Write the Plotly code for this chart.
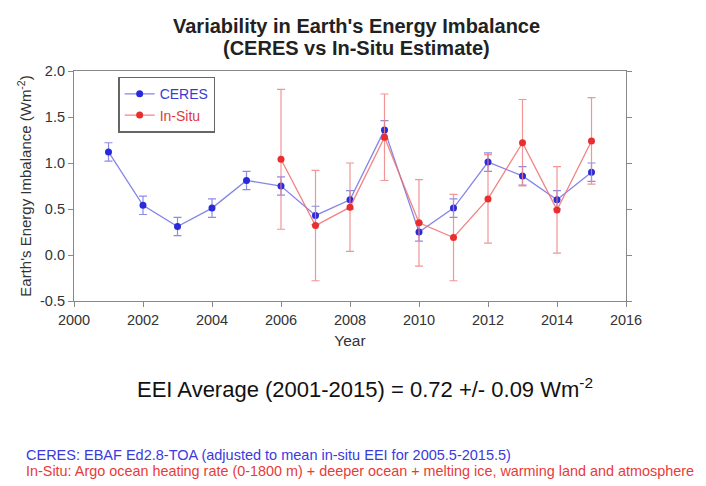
import plotly.graph_objects as go

years_ceres = [2001, 2002, 2003, 2004, 2005, 2006, 2007, 2008, 2009, 2010, 2011, 2012, 2013, 2014, 2015]
ceres = [1.12, 0.54, 0.31, 0.51, 0.81, 0.75, 0.43, 0.60, 1.36, 0.25, 0.51, 1.01, 0.86, 0.60, 0.90]
ceres_err = [0.10, 0.10, 0.10, 0.10, 0.10, 0.10, 0.10, 0.10, 0.10, 0.10, 0.10, 0.10, 0.10, 0.10, 0.10]

years_insitu = [2006, 2007, 2008, 2009, 2010, 2011, 2012, 2013, 2014, 2015]
insitu = [1.04, 0.32, 0.52, 1.28, 0.35, 0.19, 0.61, 1.22, 0.49, 1.24]
insitu_err = [0.76, 0.60, 0.48, 0.47, 0.47, 0.47, 0.48, 0.47, 0.47, 0.47]

x_ticks = [2000, 2002, 2004, 2006, 2008, 2010, 2012, 2014, 2016]
y_ticks = [-0.5, 0.0, 0.5, 1.0, 1.5, 2.0]

FONT = "Liberation Sans, Arial, sans-serif"

fig = go.Figure()
fig.add_trace(go.Scatter(
    x=years_ceres, y=ceres, mode="lines+markers",
    name="<span style='color:#3a3ad0'>CERES</span>",
    line=dict(color="rgba(110,110,230,0.85)", width=1.3),
    marker=dict(color="#2a2ad8", size=7),
    error_y=dict(type="data", array=ceres_err, color="rgba(120,120,225,0.85)", thickness=1.2, width=4),
))
fig.add_trace(go.Scatter(
    x=years_insitu, y=insitu, mode="lines+markers",
    name="<span style='color:#e03a3a'>In-Situ</span>",
    line=dict(color="rgba(238,110,110,0.85)", width=1.3),
    marker=dict(color="#ea2e2e", size=7),
    error_y=dict(type="data", array=insitu_err, color="rgba(240,130,130,0.85)", thickness=1.2, width=4),
))

fig.update_layout(
    width=706, height=486,
    margin=dict(l=66, r=88, t=63, b=193),
    paper_bgcolor="white", plot_bgcolor="white",
    font=dict(family=FONT, color="#333333", size=14),
    showlegend=True,
    legend=dict(
        x=0.08, y=0.975, xanchor="left", yanchor="top",
        bordercolor="#666666", borderwidth=1.5, bgcolor="white",
        font=dict(size=14, family=FONT),
        tracegroupgap=0, itemwidth=30,
    ),
    xaxis=dict(
        range=[2000, 2016], tickvals=x_ticks, ticktext=[str(v) for v in x_ticks],
        showgrid=False, zeroline=False, showline=True, linecolor="#888888", linewidth=1.2,
        mirror=True, ticks="outside", ticklen=5, tickcolor="#888888",
        tickfont=dict(size=14.5, color="#333333"),
        title=dict(text="Year", font=dict(size=15.5, color="#333333"), standoff=8),
    ),
    yaxis=dict(
        range=[-0.5, 2.0], tickvals=y_ticks, ticktext=[f"{v:.1f}" for v in y_ticks],
        showgrid=False, zeroline=False, showline=True, linecolor="#888888", linewidth=1.2,
        mirror="ticks", ticks="outside", ticklen=5, tickcolor="#888888",
        tickfont=dict(size=14.5, color="#333333"),
        title=dict(text="Earth's Energy Imbalance (Wm<sup>-2</sup>)", font=dict(size=15, color="#333333"), standoff=4),
    ),
)

fig.add_annotation(
    xref="paper", yref="paper", x=0.511, y=1.196, xanchor="center", yanchor="middle",
    text="<b>Variability in Earth's Energy Imbalance</b>",
    showarrow=False, font=dict(size=20, color="#222222", family=FONT),
)
fig.add_annotation(
    xref="paper", yref="paper", x=0.511, y=1.100, xanchor="center", yanchor="middle",
    text="<b>(CERES vs In-Situ Estimate)</b>",
    showarrow=False, font=dict(size=20, color="#222222", family=FONT),
)
fig.add_annotation(
    xref="paper", yref="paper", x=0.528, y=-0.378, xanchor="center", yanchor="middle",
    text="EEI Average (2001-2015) = 0.72 +/- 0.09 Wm<sup>-2</sup>",
    showarrow=False, font=dict(size=22, color="#111111", family=FONT),
)
fig.add_annotation(
    xref="paper", yref="paper", x=-0.091, y=-0.67, xanchor="left", yanchor="middle",
    text="CERES: EBAF Ed2.8-TOA (adjusted to mean in-situ EEI for 2005.5-2015.5)",
    showarrow=False, font=dict(size=14.5, color="#3a3ae0", family=FONT),
)
fig.add_annotation(
    xref="paper", yref="paper", x=-0.091, y=-0.74, xanchor="left", yanchor="middle",
    text="In-Situ: Argo ocean heating rate (0-1800 m) + deeper ocean + melting ice, warming land and atmosphere",
    showarrow=False, font=dict(size=14.4, color="#e83a3a", family=FONT),
)

fig.write_html("out.html")
